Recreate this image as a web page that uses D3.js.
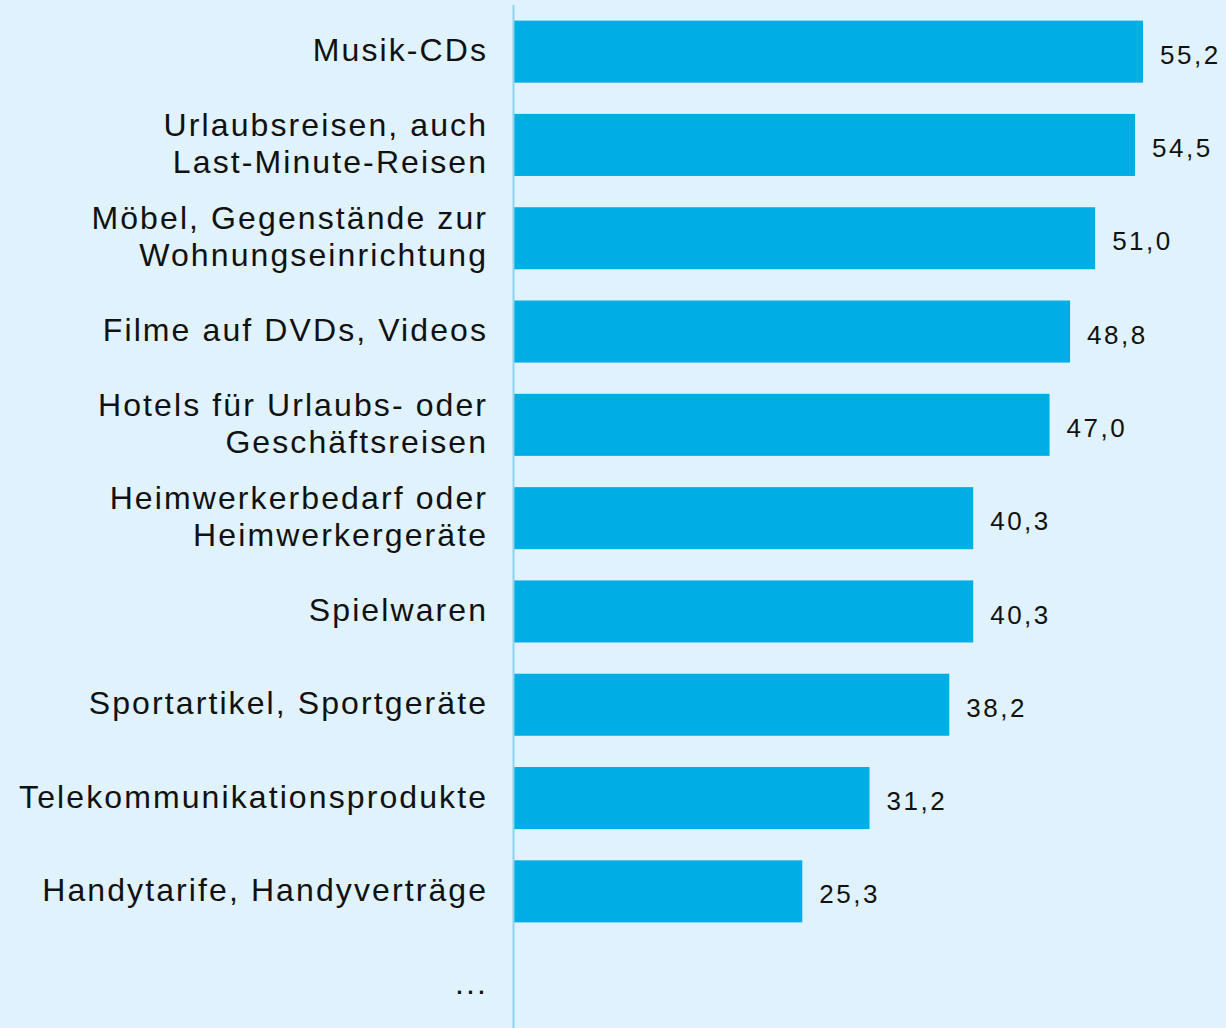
<!DOCTYPE html>
<html>
<head>
<meta charset="utf-8">
<script src="https://cdn.jsdelivr.net/npm/d3@7"></script>
<style>
    html, body { margin: 0; padding: 0; background: #dff2fd; }
    svg { display: block; }
    text { font-family: "Liberation Sans", Arial, sans-serif; fill: #111; }
</style>
</head>
<body>
<div id="chartContainer"></div>
<script>
const categories = [
    ['Musik-CDs'],
    ['Urlaubsreisen, auch', 'Last-Minute-Reisen'],
    ['Möbel, Gegenstände zur', 'Wohnungseinrichtung'],
    ['Filme auf DVDs, Videos'],
    ['Hotels für Urlaubs- oder', 'Geschäftsreisen'],
    ['Heimwerkerbedarf oder', 'Heimwerkergeräte'],
    ['Spielwaren'],
    ['Sportartikel, Sportgeräte'],
    ['Telekommunikationsprodukte'],
    ['Handytarife, Handyverträge'],
    ['...']
];
const values = [55.2, 54.5, 51.0, 48.8, 47.0, 40.3, 40.3, 38.2, 31.2, 25.3, null];

const width = 1226;
const height = 1028;
const axisX = 514;

const de = d3.formatLocale({ decimal: ',', thousands: '.', grouping: [3], currency: ['', ' €'] });
const fmt = de.format('.1f');

const svg = d3.select('#chartContainer')
    .append('svg')
    .attr('width', width)
    .attr('height', height);

svg.append('rect')
    .attr('width', width)
    .attr('height', height)
    .attr('fill', '#dff2fd');

const y = d3.scaleBand()
    .domain(d3.range(categories.length))
    .range([5, 5 + categories.length * 93.3])
    .paddingInner(0.335)
    .paddingOuter(0.1675);

const x = d3.scaleLinear()
    .domain([0, 55.2])
    .range([axisX, 1143]);

const data = values.map((v, i) => ({ lines: categories[i], value: v, i }));

svg.selectAll('.bar')
    .data(data.filter(d => d.value !== null))
    .enter().append('rect')
    .attr('class', 'bar')
    .attr('x', x(0))
    .attr('y', d => y(d.i))
    .attr('width', d => x(d.value) - x(0))
    .attr('height', y.bandwidth())
    .attr('fill', '#00aee6');

// vertical axis line
svg.append('line')
    .attr('x1', axisX - 0.5)
    .attr('x2', axisX - 0.5)
    .attr('y1', 5)
    .attr('y2', height)
    .attr('stroke', '#8dd3ee')
    .attr('stroke-width', 2);

const ls = 2.1;

const labels = svg.selectAll('.label')
    .data(data)
    .enter().append('text')
    .attr('class', 'label')
    .attr('text-anchor', 'end')
    .attr('font-size', 32)
    .attr('letter-spacing', ls)
    .attr('transform', d => `translate(${486 + ls},${y(d.i) + y.bandwidth() / 2 - 1.5})`);

labels.each(function(d) {
    const t = d3.select(this);
    const n = d.lines.length;
    d.lines.forEach((line, k) => {
        t.append('tspan')
            .attr('x', 0)
            .attr('y', (k - (n - 1) / 2) * 37)
            .attr('dy', '0.35em')
            .text(line);
    });
});

svg.selectAll('.value')
    .data(data.filter(d => d.value !== null))
    .enter().append('text')
    .attr('class', 'value')
    .attr('x', d => x(d.value) + 17)
    .attr('y', d => y(d.i) + y.bandwidth() / 2 + 3)
    .attr('dy', '0.35em')
    .attr('font-size', 26)
    .attr('letter-spacing', 2.5)
    .text(d => fmt(d.value));
</script>
</body>
</html>
